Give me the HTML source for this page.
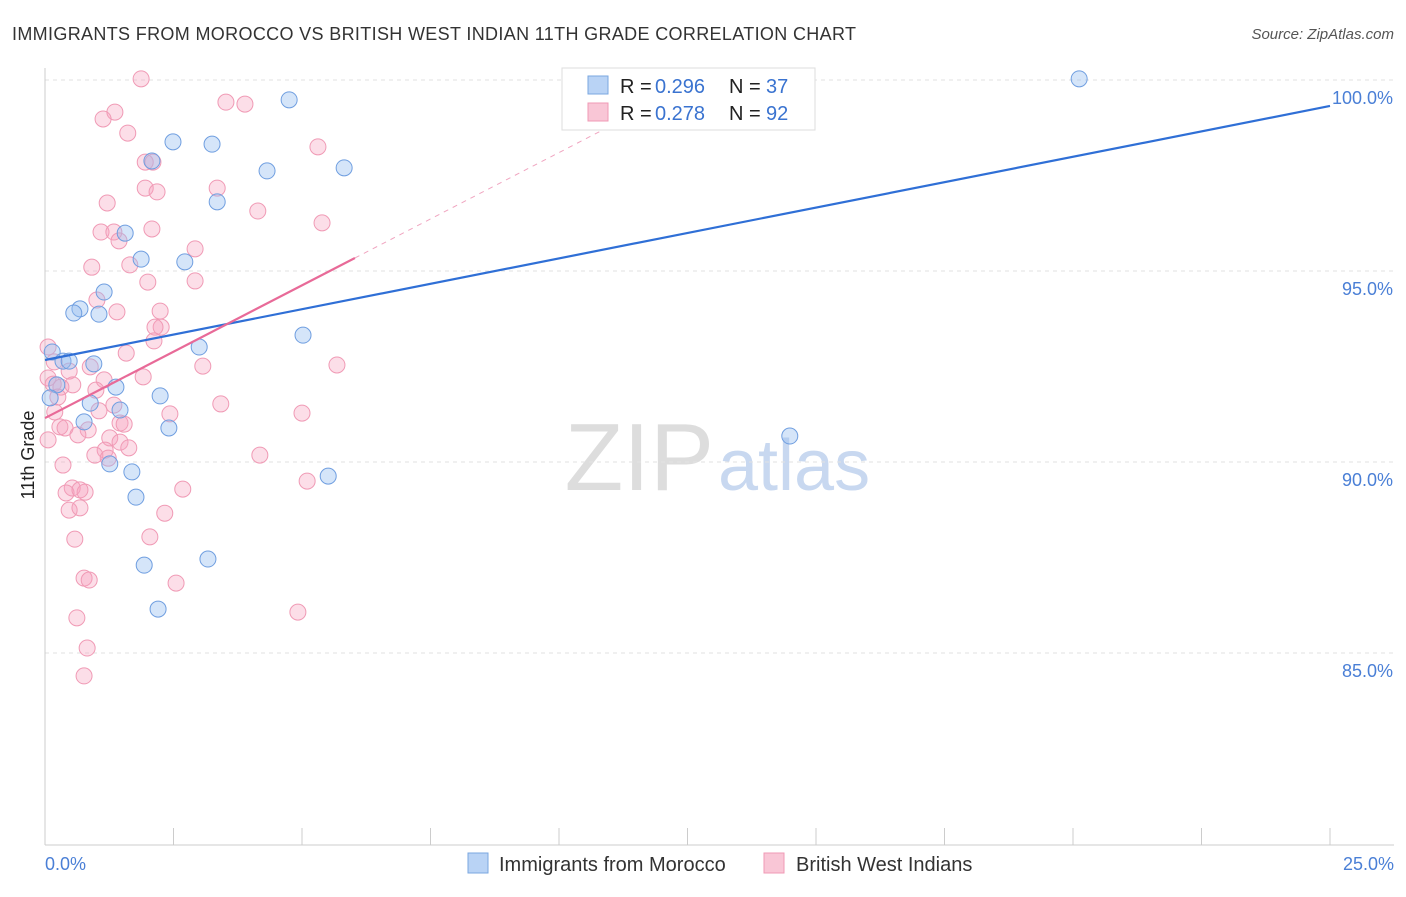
<!DOCTYPE html>
<html><head><meta charset="utf-8"><style>
body{margin:0;background:#fff;font-family:"Liberation Sans",sans-serif;}
svg text{font-family:"Liberation Sans",sans-serif;}
</style></head><body>
<svg id="c" width="1406" height="892">
<text x="12" y="40" font-size="18" fill="#333" textLength="844" lengthAdjust="spacing">IMMIGRANTS FROM MOROCCO VS BRITISH WEST INDIAN 11TH GRADE CORRELATION CHART</text>
<text x="1394" y="39" font-size="15" fill="#555" font-style="italic" text-anchor="end">Source: ZipAtlas.com</text>
<text x="714" y="490" font-size="96" fill="#ddd" text-anchor="end" font-family="Liberation Serif">ZIP</text>
<text x="718" y="490" font-size="72" fill="#c8d8f0">atlas</text>
<text x="34" y="455" font-size="18" fill="#222" text-anchor="middle" transform="rotate(-90 34 455)">11th Grade</text>
<g id="grid"></g><g id="pts"></g><g id="lines"></g>
<rect x="562" y="68" width="253" height="62" fill="#fff" stroke="#ddd"/>
<rect x="588" y="76" width="20" height="18" fill="#b9d3f5" stroke="#7aa7e0"/>
<text y="93" font-size="20" fill="#222"><tspan x="620">R = </tspan><tspan x="655" fill="#3a73d0">0.296</tspan><tspan x="729">N = </tspan><tspan x="766" fill="#3a73d0">37</tspan></text>
<rect x="588" y="103" width="20" height="18" fill="#f9c6d6" stroke="#f09ab5"/>
<text y="120" font-size="20" fill="#222"><tspan x="620">R = </tspan><tspan x="655" fill="#3a73d0">0.278</tspan><tspan x="729">N = </tspan><tspan x="766" fill="#3a73d0">92</tspan></text>
<text x="45" y="870" font-size="18" fill="#4a7fd6">0.0%</text>
<text x="1394" y="870" font-size="18" fill="#4a7fd6" text-anchor="end">25.0%</text>
<rect x="468" y="853" width="20" height="20" fill="#b9d3f5" stroke="#7aa7e0"/>
<text x="499" y="871" font-size="20" fill="#333">Immigrants from Morocco</text>
<rect x="764" y="853" width="20" height="20" fill="#f9c6d6" stroke="#f09ab5"/>
<text x="796" y="871" font-size="20" fill="#333">British West Indians</text>
</svg>
<script>
const yTicks=[100,95,90,85];
const yTickLabels=["100.0%","95.0%","90.0%","85.0%"];
const xTicks=[0,2.5,5,7.5,10,12.5,15,17.5,20,22.5,25];
const blueX=[20.12,4.75,2.49,3.25,2.08,4.32,5.82,3.35,1.56,1.87,2.72,1.15,0.68,0.56,1.05,5.02,3.00,0.14,0.35,0.47,0.95,0.23,1.38,2.24,0.88,1.46,0.76,2.41,14.49,1.26,1.69,5.51,1.77,3.17,1.93,2.20,0.10];
const blueY=[100.03,99.48,98.38,98.32,97.88,97.62,97.70,96.81,95.99,95.31,95.24,94.45,94.01,93.90,93.87,93.32,93.01,92.88,92.64,92.64,92.57,92.02,91.96,91.73,91.54,91.36,91.05,90.89,90.68,89.95,89.74,89.63,89.08,87.46,87.30,86.15,91.68];
const pinkX=[1.87,3.52,3.89,1.36,1.13,1.61,5.31,1.95,2.10,1.95,2.18,3.35,1.21,4.14,5.39,2.08,1.09,1.34,1.44,2.92,1.65,0.91,2.00,2.92,1.01,1.40,2.24,2.26,2.14,2.12,0.06,1.58,3.07,0.18,0.88,5.68,0.06,0.47,1.15,1.91,0.16,0.31,0.54,0.99,0.25,0.19,1.34,1.05,3.42,2.43,5.00,1.46,0.84,1.54,0.29,0.39,0.64,1.26,0.06,1.46,1.63,1.17,0.97,4.18,1.23,0.35,0.53,0.78,0.41,2.68,0.68,5.10,0.47,0.68,2.33,2.04,0.58,0.76,0.86,2.55,4.92,0.62,0.82,0.76];
const pinkY=[100.03,99.42,99.37,99.16,98.98,98.61,98.25,97.85,97.85,97.17,97.07,97.17,96.78,96.57,96.26,96.10,96.02,96.02,95.79,95.58,95.16,95.10,94.71,94.74,94.24,93.93,93.95,93.53,93.53,93.17,93.01,92.85,92.51,92.62,92.49,92.54,92.20,92.38,92.15,92.23,92.04,91.96,92.02,91.88,91.70,91.31,91.49,91.34,91.52,91.26,91.28,91.02,90.84,90.99,90.92,90.89,90.71,90.63,90.58,90.52,90.37,90.31,90.18,90.18,90.10,89.92,89.32,89.21,89.19,89.29,89.27,89.50,88.74,88.80,88.66,88.04,87.98,86.96,86.91,86.83,86.07,85.92,85.13,84.40];
const blueTrend=[92.67,99.32];
const pinkTrend=[91.15,0.695];
const pinkSolidEnd=6.03, pinkDashEnd=11;
const X=v=>45+v*51.4, Y=v=>80+(100-v)*38.2;
const NS="http://www.w3.org/2000/svg";
function mk(p,t,a){const e=document.createElementNS(NS,t);for(const k in a)e.setAttribute(k,a[k]);p.appendChild(e);return e;}
const grid=document.getElementById('grid'),pts=document.getElementById('pts'),lines=document.getElementById('lines');
yTicks.forEach((v,i)=>{
 const l=mk(grid,'line',{x1:45,x2:1394,y1:Y(v),y2:Y(v),stroke:'#e2e2e2','stroke-dasharray':'4,4'});
 
 
 const t=mk(grid,'text',{x:1393,y:Y(v)+24,'font-size':18,fill:'#4a7fd6','text-anchor':'end'});
 t.textContent=yTickLabels[i];
 
 
});
const ax=mk(grid,'line',{x1:45,x2:1394,y1:845,y2:845,stroke:'#ccc'});


const ay=mk(grid,'line',{x1:45,x2:45,y1:68,y2:845,stroke:'#ccc'});


xTicks.forEach(v=>{
 const t=mk(grid,'line',{x1:X(v),x2:X(v),y1:828,y2:845,stroke:'#ccc'});
 
 
});
pinkX.forEach((v,i)=>{
 const c=mk(pts,'circle',{cx:X(v),cy:Y(pinkY[i]),r:8,fill:'rgba(246,160,190,0.35)',stroke:'#f09ab5','stroke-width':1});
 
 
});
blueX.forEach((v,i)=>{
 const c=mk(pts,'circle',{cx:X(v),cy:Y(blueY[i]),r:8,fill:'rgba(150,190,240,0.4)',stroke:'#6f9ee0','stroke-width':1});
 
 
});
const bl=mk(lines,'line',{x1:X(0),y1:Y(blueTrend[0]),x2:X(25),y2:Y(blueTrend[1]),stroke:'#2f6fd6','stroke-width':2.2});


const pf=x=>pinkTrend[0]+pinkTrend[1]*x;
const pl=mk(lines,'line',{x1:X(0),y1:Y(pf(0)),x2:X(pinkSolidEnd),y2:Y(pf(pinkSolidEnd)),stroke:'#e86a98','stroke-width':2.2});


const pd=mk(lines,'line',{x1:X(pinkSolidEnd),y1:Y(pf(pinkSolidEnd)),x2:X(pinkDashEnd),y2:Y(pf(pinkDashEnd)),stroke:'#f0a5c0','stroke-width':1,'stroke-dasharray':'5,5'});


</script>
</body></html>
